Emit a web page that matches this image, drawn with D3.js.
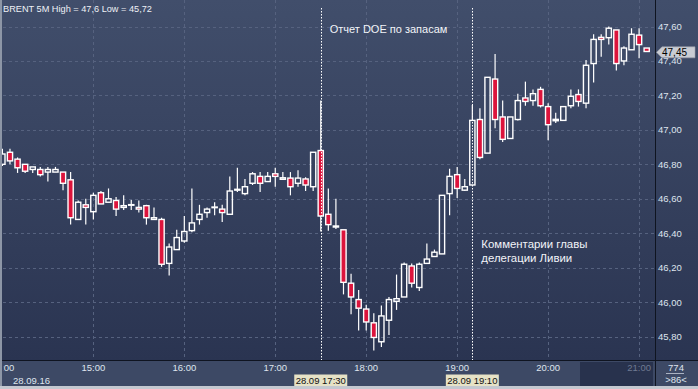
<!DOCTYPE html>
<html><head><meta charset="utf-8">
<script src="https://cdn.jsdelivr.net/npm/d3@7"></script>
<style>body{margin:0;background:#2e3955;overflow:hidden}svg{display:block}text{font-family:"Liberation Sans",Arial,sans-serif}</style>
</head><body><svg id="c" width="698" height="389"></svg>
<script>
// ---- data ----
const times = ["14:00","14:05","14:10","14:15","14:20","14:25","14:30","14:35","14:40","14:45","14:50","14:55",
"15:00","15:05","15:10","15:15","15:20","15:25","15:30","15:35","15:40","15:45","15:50","15:55",
"16:00","16:05","16:10","16:15","16:20","16:25","16:30","16:35","16:40","16:45","16:50","16:55",
"17:00","17:05","17:10","17:15","17:20","17:25","17:30","17:35","17:40","17:45","17:50","17:55",
"18:00","18:05","18:10","18:15","18:20","18:25","18:30","18:35","18:40","18:45","18:50","18:55",
"19:00","19:05","19:10","19:15","19:20","19:25","19:30","19:35","19:40","19:45","19:50","19:55",
"20:00","20:05","20:10","20:15","20:20","20:25","20:30","20:35","20:40","20:45","20:50","20:55",
"21:00","21:05"];
const open  = [46.80,46.87,46.83,46.80,46.77,46.77,46.755,46.755,46.755,46.71,46.48,46.565,46.525,46.635,46.58,46.59,46.55,46.563,46.55,46.56,46.48,46.48,
46.225,46.305,46.355,46.415,46.48,46.52,46.55,46.54,46.51,46.65,46.63,46.69,46.73,46.70,46.745,46.713,46.72,46.69,46.715,46.67,
46.88,46.51,46.436,46.42,46.11,46.015,45.96,45.88,45.77,45.895,46.005,46.03,46.21,46.085,46.225,46.265,46.28,46.63,46.74,46.65,
46.68,47.06,46.865,47.295,47.075,46.95,47.06,47.185,47.17,47.235,47.135,47.053,47.055,47.14,47.205,47.155,47.385,47.537,47.535,47.58,
47.40,47.465,47.55,47.475];
const high  = [46.89,46.89,46.84,46.80,46.785,46.785,46.785,46.785,46.755,46.755,46.59,46.60,46.635,46.645,46.66,46.61,46.62,46.593,46.59,46.565,46.55,46.49,
46.34,46.42,46.50,46.66,46.565,46.55,46.58,46.565,46.73,46.78,46.715,46.755,46.755,46.755,46.78,46.755,46.755,46.765,46.725,46.87,
47.17,46.66,46.60,46.42,46.165,46.07,45.985,45.935,45.98,46.03,46.16,46.23,46.225,46.23,46.34,46.305,46.62,46.775,46.785,46.715,
47.145,47.125,47.305,47.44,47.17,47.075,47.21,47.28,47.235,47.25,47.155,47.10,47.135,47.235,47.235,47.405,47.555,47.555,47.60,47.58,
47.485,47.59,47.59,47.475];
const low   = [46.79,46.80,46.75,46.75,46.75,46.73,46.70,46.755,46.65,46.45,46.48,46.45,46.48,46.57,46.58,46.50,46.535,46.535,46.52,46.45,46.48,46.205,
46.155,46.305,46.345,46.405,46.45,46.49,46.505,46.465,46.51,46.64,46.62,46.68,46.64,46.70,46.67,46.713,46.62,46.67,46.645,46.645,
46.41,46.415,46.425,46.045,45.93,45.835,45.835,45.72,45.74,45.81,45.955,46.03,46.085,46.065,46.225,46.265,46.28,46.505,46.605,46.645,
46.68,46.83,46.865,47.01,46.93,46.95,47.055,47.14,47.14,47.13,46.94,47.04,47.055,47.125,47.135,47.125,47.275,47.425,47.495,47.345,
47.375,47.465,47.415,47.455];
const close = [46.86,46.82,46.78,46.76,46.785,46.74,46.77,46.77,46.69,46.49,46.58,46.55,46.62,46.57,46.60,46.54,46.56,46.566,46.54,46.49,46.49,46.22,
46.32,46.375,46.41,46.46,46.51,46.54,46.552,46.52,46.645,46.655,46.67,46.745,46.69,46.73,46.73,46.722,46.67,46.72,46.68,46.87,
46.50,46.45,46.442,46.115,46.03,45.965,45.885,45.795,45.92,46.015,46.02,46.22,46.11,46.22,46.25,46.29,46.62,46.73,46.66,46.67,
47.055,46.84,47.305,47.06,46.945,47.075,47.17,47.165,47.21,47.14,47.03,47.061,47.135,47.195,47.165,47.375,47.525,47.525,47.59,47.385,
47.475,47.555,47.495,47.455];
const priceTicks = [45.8,46.0,46.2,46.4,46.6,46.8,47.0,47.2,47.4,47.6];
const hourTicks = ["14:00","15:00","16:00","17:00","18:00","19:00","20:00","21:00"];
const events = [{t:"17:30", label:"28.09 17:30", text:["Отчет DOE по запасам"]},
                {t:"19:10", label:"28.09 19:10", text:["Комментарии главы","делегации Ливии"]}];
const title = "BRENT 5M High = 47,6 Low = 45,72";
const dateLabel = "28.09.16";
const lastPrice = 47.45;
const barCount = "774", barInfo = ">86<";

// ---- scales ----
const parse = d3.timeParse("%Y-%m-%d %H:%M");
const tp = s => parse("2016-09-28 " + s);
const x = d3.scaleTime().domain([tp("14:00"), tp("21:00")]).range([2.4, 639.1]);
const y = d3.scaleLinear().domain([45.8, 47.6]).range([336.6, 26.5]);
const fmt = v => d3.format(".2f")(v).replace(".", ",");

const svg = d3.select("#c");
const defs = svg.append("defs");
const g = defs.append("linearGradient").attr("id","bg").attr("x1",0).attr("y1",0).attr("x2",0).attr("y2",1);
g.append("stop").attr("offset","0%").attr("stop-color","#414e6b");
g.append("stop").attr("offset","100%").attr("stop-color","#2a3451");
defs.append("clipPath").attr("id","plotClip").append("rect").attr("x",2).attr("y",0).attr("width",653).attr("height",360);
defs.append("clipPath").attr("id","axClip").append("rect").attr("x",3).attr("y",360).attr("width",652).attr("height",28);

svg.append("rect").attr("x",0).attr("y",0).attr("width",698).attr("height",361).attr("fill","url(#bg)");
svg.append("rect").attr("x",0).attr("y",361).attr("width",698).attr("height",26).attr("fill","#3d4965");
svg.append("rect").attr("x",580).attr("y",362).attr("width",73).attr("height",24).attr("fill","#28324d");

// grid
const plot = svg.append("g").attr("clip-path","url(#plotClip)");
plot.selectAll(".hg").data(priceTicks).enter().append("line")
  .attr("x1",3).attr("x2",655).attr("y1",d=>Math.round(y(d))+0.5).attr("y2",d=>Math.round(y(d))+0.5)
  .attr("stroke","#56627f").attr("stroke-dasharray","3,3");
plot.selectAll(".vg").data(hourTicks.slice(1)).enter().append("line")
  .attr("x1",d=>Math.round(x(tp(d)))+0.5).attr("x2",d=>Math.round(x(tp(d)))+0.5).attr("y1",0).attr("y2",360)
  .attr("stroke","#56627f").attr("stroke-dasharray","3,3");

// candles
const data = times.map((t,i)=>({t:tp(t),o:open[i],h:high[i],l:low[i],c:close[i]}));
const bw = 5.2;
const cg = plot.selectAll(".cd").data(data).enter().append("g");
cg.append("line").attr("x1",d=>x(d.t)).attr("x2",d=>x(d.t))
  .attr("y1",d=>y(d.h)).attr("y2",d=>y(Math.max(d.o,d.c))).attr("stroke","#fff").attr("stroke-width",1.2);
cg.append("line").attr("x1",d=>x(d.t)).attr("x2",d=>x(d.t))
  .attr("y1",d=>y(Math.min(d.o,d.c))).attr("y2",d=>y(d.l)).attr("stroke","#fff").attr("stroke-width",1.2);
cg.append("rect").attr("x",d=>x(d.t)-bw/2).attr("width",bw)
  .attr("y",d=>y(Math.max(d.o,d.c))).attr("height",d=>Math.max(0.6, y(Math.min(d.o,d.c))-y(Math.max(d.o,d.c))))
  .attr("fill",d=>d.c<d.o?"#dc143c":"none").attr("stroke","#fff").attr("stroke-width",1.4);

// event lines + notes
events.forEach(e=>{
  const ex = Math.round(x(tp(e.t)))+0.5;
  svg.append("line").attr("x1",ex).attr("x2",ex).attr("y1",8).attr("y2",360)
    .attr("stroke","#fff").attr("stroke-dasharray","1.5,1.5").attr("stroke-width",1);
});
svg.append("text").attr("x",x(tp("17:30"))+9).attr("y",33).attr("fill","#f2f4f8").attr("font-size",11).text(events[0].text[0]);
events[1].text.forEach((s,i)=>svg.append("text").attr("x",x(tp("19:10"))+9).attr("y",248+i*14)
  .attr("fill","#f2f4f8").attr("font-size",11.4).text(s));

// axes lines
svg.append("line").attr("x1",0).attr("x2",698).attr("y1",360.5).attr("y2",360.5).attr("stroke","#0f1420");
svg.append("line").attr("x1",655.5).attr("x2",655.5).attr("y1",0).attr("y2",387).attr("stroke","#0f1420");

// y labels
svg.selectAll(".yl").data(priceTicks).enter().append("text")
  .attr("x",658).attr("y",d=>y(d)+3.5).attr("fill","#dfe5ee").attr("font-size",9.5).text(fmt);
// price tag
const py = y(lastPrice);
svg.append("path").attr("d",`M656.5,${py} L662,${py-5.5} L695,${py-5.5} L695,${py+5.5} L662,${py+5.5} Z`)
  .attr("fill","#c9ccd3").attr("stroke","#9aa0aa").attr("stroke-width",0.6);
svg.append("text").attr("x",662).attr("y",py+3.6).attr("fill","#000").attr("font-size",10).text(fmt(lastPrice));

// x labels
const ax = svg.append("g").attr("clip-path","url(#axClip)");
ax.selectAll(".xl").data(hourTicks).enter().append("text")
  .attr("x",d=>x(tp(d))).attr("y",371).attr("text-anchor","middle").attr("font-size",9.5)
  .attr("fill",d=>x(tp(d))>580?"#6f7a92":"#dfe5ee").text(d=>d);
svg.append("text").attr("x",13).attr("y",383.5).attr("fill","#dfe5ee").attr("font-size",9.5).text(dateLabel);
events.forEach(e=>{
  const ex = x(tp(e.t));
  svg.append("rect").attr("x",ex-26.5).attr("y",374.5).attr("width",53).attr("height",11.5).attr("fill","#e6e2c6");
  svg.append("text").attr("x",ex).attr("y",383.8).attr("text-anchor","middle").attr("font-size",9.5).attr("fill","#111").text(e.label);
});

// bottom-right cell
svg.append("text").attr("x",676).attr("y",371).attr("text-anchor","middle").attr("font-size",9.5).attr("fill","#dfe5ee").text(barCount);
svg.append("line").attr("x1",666).attr("x2",684).attr("y1",373.5).attr("y2",373.5).attr("stroke","#aab2c2");
svg.append("text").attr("x",676).attr("y",383).attr("text-anchor","middle").attr("font-size",9.5).attr("fill","#dfe5ee").text(barInfo);

// title
svg.append("text").attr("x",3).attr("y",12).attr("fill","#eef1f6").attr("font-size",9.2).text(title);

// frame
svg.append("rect").attr("x",0).attr("y",0).attr("width",2).attr("height",389).attr("fill","#8d96a6");
svg.append("rect").attr("x",0).attr("y",386).attr("width",698).attr("height",3).attr("fill","#c4c8d0");
</script></body></html>
